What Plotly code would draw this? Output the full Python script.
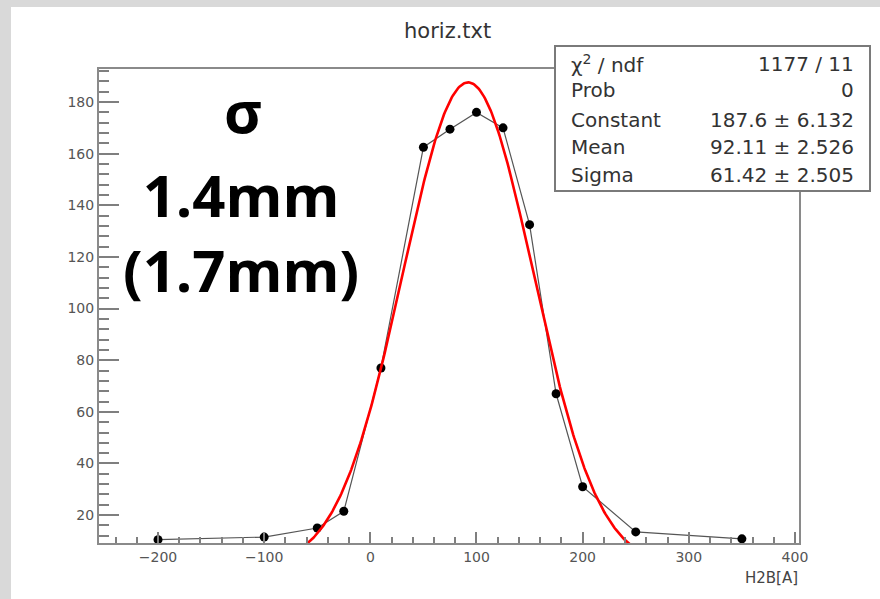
import numpy as np
import plotly.graph_objects as go

# ---- data ----
x_points = [-200, -100, -50, -25, 10, 50, 75, 100, 125, 150, 175, 200, 250, 350]
y_points = [10.5, 11.5, 15, 21.5, 77, 162.5, 169.5, 176, 170, 132.5, 67, 31, 13.5, 10.8]

fit_constant = 187.6
fit_mean = 92.11
fit_sigma = 61.42
fit_xmin, fit_xmax = -62, 252

stats_labels = ["χ<sup>2</sup> / ndf", "Prob", "Constant", "Mean", "Sigma"]
stats_values = ["1177 / 11", "0", "187.6 ± 6.132", "92.11 ± 2.526", "61.42 ± 2.505"]

note_sigma = "σ"
note_values = ["1.4mm", "(1.7mm)"]

title_text = "horiz.txt"
x_title = "H2B[A]"
x_range = [-255.6, 403.8]
y_range = [9.2, 192.8]

# ---- layout geometry (pixels) ----
W, H = 880, 599
L, R, T, B = 99, 799, 69, 543


def px(x):
    return (x - L) / (R - L)


def py(y):
    return (B - y) / (B - T)


fx = np.linspace(fit_xmin, fit_xmax, 300)
fy = fit_constant * np.exp(-0.5 * ((fx - fit_mean) / fit_sigma) ** 2)

fig = go.Figure()
fig.add_trace(go.Scatter(
    x=x_points, y=y_points, mode="lines+markers",
    line=dict(color="#555555", width=1.2),
    marker=dict(color="black", size=9, symbol="circle"),
    showlegend=False, hoverinfo="skip",
))
fig.add_trace(go.Scatter(
    x=fx, y=fy, mode="lines",
    line=dict(color="#ff0000", width=2.6),
    showlegend=False, hoverinfo="skip",
))

tick_col = "#7f7f7f"
axis_common = dict(
    showgrid=False, zeroline=False, showline=True, mirror=True,
    linecolor="#8a8a8a", linewidth=2,
    ticks="inside", tickcolor=tick_col, tickwidth=2,
    tickfont=dict(family="DejaVu Sans", size=14, color="#555555"),
)

fig.update_xaxes(
    range=x_range, tick0=0, dtick=100, ticklen=11,
    minor=dict(dtick=20, ticks="inside", ticklen=6, tickcolor=tick_col, tickwidth=1.6),
    **axis_common,
)
fig.update_yaxes(
    range=y_range, tick0=0, dtick=20, ticklen=20,
    minor=dict(dtick=4, ticks="inside", ticklen=10, tickcolor=tick_col, tickwidth=1.6),
    **axis_common,
)

shapes = [
    # paper-texture strips
    dict(type="rect", xref="paper", yref="paper", x0=px(0), x1=px(11), y0=py(H), y1=py(0),
         fillcolor="#d9d9d9", line=dict(width=0), layer="below"),
    dict(type="rect", xref="paper", yref="paper", x0=px(0), x1=px(W), y0=py(7), y1=py(0),
         fillcolor="#d9d9d9", line=dict(width=0), layer="below"),
    # stats box
    dict(type="rect", xref="paper", yref="paper", x0=px(555), x1=px(870), y0=py(191), y1=py(46),
         fillcolor="white", line=dict(color="#7a7a7a", width=2), layer="above"),
]

annotations = []
annotations.append(dict(text=title_text, x=px(447), y=py(31), xref="paper", yref="paper",
                        showarrow=False, xanchor="center", yanchor="middle",
                        font=dict(family="DejaVu Sans", size=21, color="#333333")))
annotations.append(dict(text=x_title, x=px(800), y=py(578), xref="paper", yref="paper",
                        showarrow=False, xanchor="right", yanchor="middle",
                        font=dict(family="DejaVu Sans", size=15, color="#444444")))

stat_y = [64, 90, 120, 147, 175]
for lab, val, yy in zip(stats_labels, stats_values, stat_y):
    annotations.append(dict(text=lab, x=px(569), y=py(yy), xref="paper", yref="paper",
                            showarrow=False, xanchor="left", yanchor="middle",
                            font=dict(family="DejaVu Sans", size=20, color="#333333")))
    annotations.append(dict(text=val, x=px(856), y=py(yy), xref="paper", yref="paper",
                            showarrow=False, xanchor="right", yanchor="middle",
                            font=dict(family="DejaVu Sans", size=20, color="#333333")))

annotations.append(dict(text=note_sigma, x=px(243), y=py(110), xref="paper", yref="paper",
                        showarrow=False, xanchor="center", yanchor="middle",
                        font=dict(family="Open Sans", size=58, color="black", weight=700)))
annotations.append(dict(text="<br>".join(note_values), x=px(241), y=py(232),
                        xref="paper", yref="paper", align="center",
                        showarrow=False, xanchor="center", yanchor="middle",
                        font=dict(family="Open Sans", size=58, color="black", weight=700)))

fig.update_layout(
    width=W, height=H,
    margin=dict(l=L, r=W - R, t=T, b=H - B),
    paper_bgcolor="white", plot_bgcolor="white",
    shapes=shapes, annotations=annotations,
    showlegend=False,
)

fig.write_html("out.html")
